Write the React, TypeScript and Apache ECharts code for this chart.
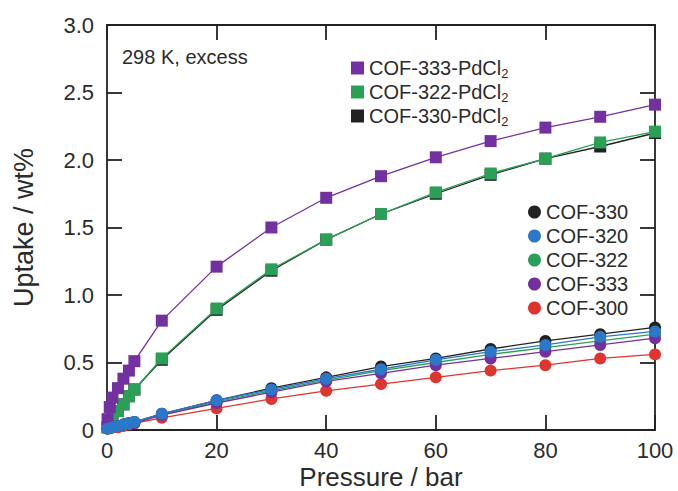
import React, { useEffect, useRef } from "react";
import * as echarts from "echarts";

// Pressure (bar) sampling points
const pdPressures = [0.1, 0.5, 1, 2, 3, 4, 5, 10, 20, 30, 40, 50, 60, 70, 80, 90, 100];
const cofPressures = [0.1, 1, 2, 3, 4, 5, 10, 20, 30, 40, 50, 60, 70, 80, 90, 100];

// Uptake (wt%) — PdCl2 loaded frameworks (squares)
const cof333Pd = [0.08, 0.17, 0.24, 0.31, 0.38, 0.44, 0.51, 0.81, 1.21, 1.5, 1.72, 1.88, 2.02, 2.14, 2.24, 2.32, 2.41];
const cof322Pd = [0.02, 0.05, 0.09, 0.14, 0.19, 0.25, 0.3, 0.53, 0.9, 1.19, 1.41, 1.6, 1.76, 1.9, 2.01, 2.13, 2.21];
const cof330Pd = [0.02, 0.05, 0.09, 0.14, 0.19, 0.25, 0.3, 0.52, 0.89, 1.18, 1.41, 1.6, 1.75, 1.89, 2.01, 2.1, 2.2];

// Uptake (wt%) — pristine frameworks (circles)
const cof330 = [0.01, 0.02, 0.03, 0.04, 0.05, 0.06, 0.12, 0.22, 0.31, 0.39, 0.47, 0.53, 0.6, 0.66, 0.71, 0.76];
const cof320 = [0.01, 0.02, 0.03, 0.04, 0.05, 0.06, 0.12, 0.22, 0.3, 0.38, 0.45, 0.52, 0.58, 0.63, 0.69, 0.73];
const cof322 = [0.01, 0.02, 0.03, 0.04, 0.05, 0.06, 0.11, 0.21, 0.29, 0.37, 0.44, 0.5, 0.56, 0.61, 0.66, 0.71];
const cof333 = [0.01, 0.02, 0.03, 0.04, 0.05, 0.05, 0.11, 0.2, 0.28, 0.36, 0.42, 0.48, 0.53, 0.58, 0.63, 0.68];
const cof300 = [0.01, 0.02, 0.02, 0.03, 0.04, 0.05, 0.09, 0.16, 0.23, 0.29, 0.34, 0.39, 0.44, 0.48, 0.53, 0.56];

const xTitle = "Pressure / bar";
const yTitle = "Uptake / wt%";
const note = "298 K, excess";

const colors = {
  black: "#222222",
  blue: "#2b78c9",
  green: "#2aa057",
  purple: "#7230a0",
  red: "#e0342f",
};

const zip = (xs: number[], ys: number[]) => xs.map((x, i) => [x, ys[i]]);

const FONT = "Liberation Sans, Arial, sans-serif";
const TEXT = "#2b2b2b";

export default function App() {
  const ref = useRef<HTMLDivElement>(null);

  useEffect(() => {
    if (!ref.current) return;
    const chart = echarts.init(ref.current, undefined, { renderer: "svg" });

    const mk = (name: string, xs: number[], ys: number[], color: string, symbol: string, size: number, z: number) => ({
      name,
      type: "line",
      data: zip(xs, ys),
      symbol,
      symbolSize: size,
      showSymbol: true,
      clip: false,
      z,
      lineStyle: { color, width: 1.3 },
      itemStyle: { color },
      emphasis: { disabled: true },
    });

    const axisLine = { show: true, onZero: false, lineStyle: { color: "#222", width: 1.8 } };
    const axisTick = { show: true, inside: true, length: 15, lineStyle: { color: "#222", width: 1.8 } };

    const subRich = {
      sub: { fontSize: 13, lineHeight: 10, verticalAlign: "bottom", fontFamily: FONT, color: TEXT },
    };

    chart.setOption({
      animation: false,
      textStyle: { fontFamily: FONT },
      grid: { left: 107, right: 23, top: 25, bottom: 61, containLabel: false, outerBoundsMode: "none" },
      xAxis: [
        {
          type: "value",
          min: 0,
          max: 100,
          interval: 20,
          position: "bottom",
          axisLine,
          axisTick,
          splitLine: { show: false },
          axisLabel: { fontSize: 22, color: TEXT, margin: 9, fontFamily: FONT },
        },
        {
          type: "value",
          min: 0,
          max: 100,
          interval: 20,
          position: "top",
          axisLine,
          axisTick,
          splitLine: { show: false },
          axisLabel: { show: false },
        },
      ],
      yAxis: [
        {
          type: "value",
          min: 0,
          max: 3,
          interval: 0.5,
          position: "left",
          axisLine,
          axisTick,
          splitLine: { show: false },
          axisLabel: {
            fontSize: 22,
            color: TEXT,
            margin: 13,
            fontFamily: FONT,
            formatter: (v: number) => (v === 0 ? "0" : v.toFixed(1)),
          },
          name: yTitle,
          nameLocation: "middle",
          nameGap: 70,
          nameTextStyle: { fontSize: 27, color: TEXT, fontFamily: FONT },
        },
        {
          type: "value",
          min: 0,
          max: 3,
          interval: 0.5,
          position: "right",
          axisLine,
          axisTick,
          splitLine: { show: false },
          axisLabel: { show: false },
        },
      ],
      legend: [
        {
          data: ["COF-333-PdCl2", "COF-322-PdCl2", "COF-330-PdCl2"],
          orient: "vertical",
          left: 346,
          top: 51,
          itemGap: 0,
          itemWidth: 13,
          itemHeight: 13,
          icon: "rect",
          selectedMode: false,
          formatter: (n: string) => n.replace("PdCl2", "PdCl{sub|2}"),
          textStyle: { fontSize: 20, lineHeight: 24, color: TEXT, fontFamily: FONT, rich: subRich },
        },
        {
          data: ["COF-330", "COF-320", "COF-322", "COF-333", "COF-300"],
          orient: "vertical",
          left: 523,
          top: 195,
          itemGap: 0,
          itemWidth: 13,
          itemHeight: 13,
          icon: "circle",
          selectedMode: false,
          textStyle: { fontSize: 20, lineHeight: 24, color: TEXT, fontFamily: FONT },
        },
      ],
      graphic: [
        {
          type: "text",
          left: 122,
          top: 47,
          style: { text: note, fontSize: 20, fill: TEXT, fontFamily: FONT },
        },
        {
          type: "text",
          x: 381,
          y: 477,
          style: {
            text: xTitle,
            fontSize: 26,
            lineHeight: 26,
            fill: TEXT,
            fontFamily: FONT,
            align: "center",
            verticalAlign: "middle",
          },
        },
      ],
      series: [
        mk("COF-330-PdCl2", pdPressures, cof330Pd, colors.black, "rect", 12, 2),
        mk("COF-322-PdCl2", pdPressures, cof322Pd, colors.green, "rect", 12, 3),
        mk("COF-333-PdCl2", pdPressures, cof333Pd, colors.purple, "rect", 12, 4),
        mk("COF-300", cofPressures, cof300, colors.red, "circle", 12, 2),
        mk("COF-330", cofPressures, cof330, colors.black, "circle", 12, 2),
        mk("COF-322", cofPressures, cof322, colors.green, "circle", 12, 3),
        mk("COF-333", cofPressures, cof333, colors.purple, "circle", 12, 3),
        mk("COF-320", cofPressures, cof320, colors.blue, "circle", 12, 4),
      ],
    });

    return () => chart.dispose();
  }, []);

  return <div ref={ref} style={{ width: 678, height: 491, position: "absolute", left: 0, top: 0 }} />;
}
